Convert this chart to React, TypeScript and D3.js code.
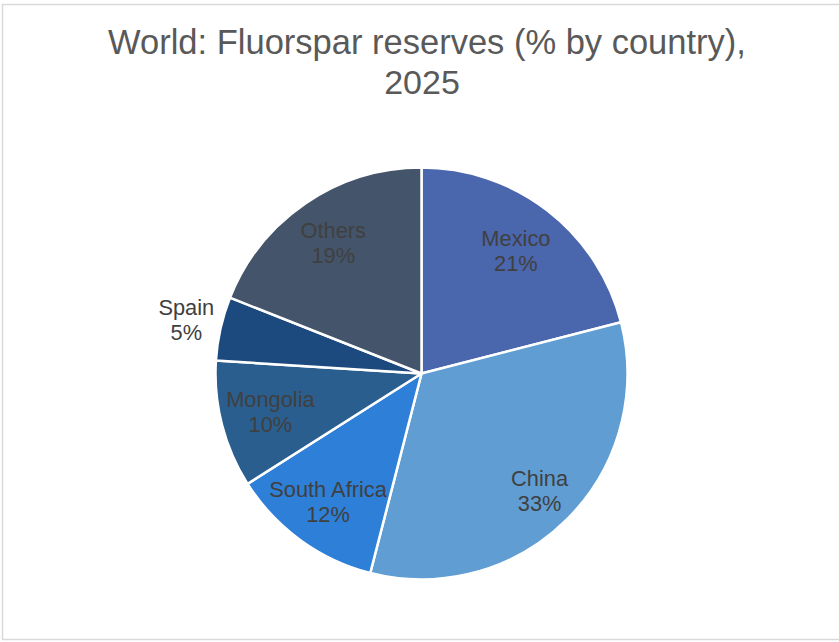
import React from "react";
import * as d3 from "d3";

const countries = ["Mexico", "China", "South Africa", "Mongolia", "Spain", "Others"];
const shares = [21, 33, 12, 10, 5, 19];
const titleLines = ["World: Fluorspar reserves (% by country),", "2025"];

const colors = ["#4a66ad", "#5f9dd3", "#2d7fd7", "#2a5e8e", "#1d4a7e", "#44546a"];
const labelRadius = [154, 167, 159, 156, 241, 157];

const W = 839;
const H = 642;
const CX = 421.5;
const CY = 373.5;
const R = 206;

export default function App() {
  const pie = d3.pie<number>().sort(null).value((d) => d);
  const arcs = pie(shares);
  const arc = d3.arc<d3.PieArcDatum<number>>().innerRadius(0).outerRadius(R);

  return (
    <svg
      width={W}
      height={H}
      style={{ position: "absolute", left: 0, top: 0, background: "#fff" }}
      fontFamily="'Liberation Sans', Arial, sans-serif"
    >
      <rect x={2.5} y={4.5} width={W + 10} height={635} fill="#fff" stroke="#d9d9d9" strokeWidth={1.5} />
      <text x={427} y={54} textAnchor="middle" fontSize={34.5} fill="#595959">
        {titleLines[0]}
      </text>
      <text x={422} y={94} textAnchor="middle" fontSize={34} fill="#595959">
        {titleLines[1]}
      </text>
      <g transform={`translate(${CX},${CY})`}>
        {arcs.map((a, i) => (
          <path key={countries[i]} d={arc(a) || ""} fill={colors[i]} stroke="#fff" strokeWidth={2.5} strokeLinejoin="round" />
        ))}
        {arcs.map((a, i) => {
          const mid = (a.startAngle + a.endAngle) / 2;
          const r = labelRadius[i];
          const x = r * Math.sin(mid);
          const y = -r * Math.cos(mid);
          return (
            <text key={"l" + i} textAnchor="middle" fontSize={21.8} fill="#404040">
              <tspan x={x} y={y - 5.5}>{countries[i]}</tspan>
              <tspan x={x} y={y + 19.5}>{shares[i] + "%"}</tspan>
            </text>
          );
        })}
      </g>
    </svg>
  );
}
